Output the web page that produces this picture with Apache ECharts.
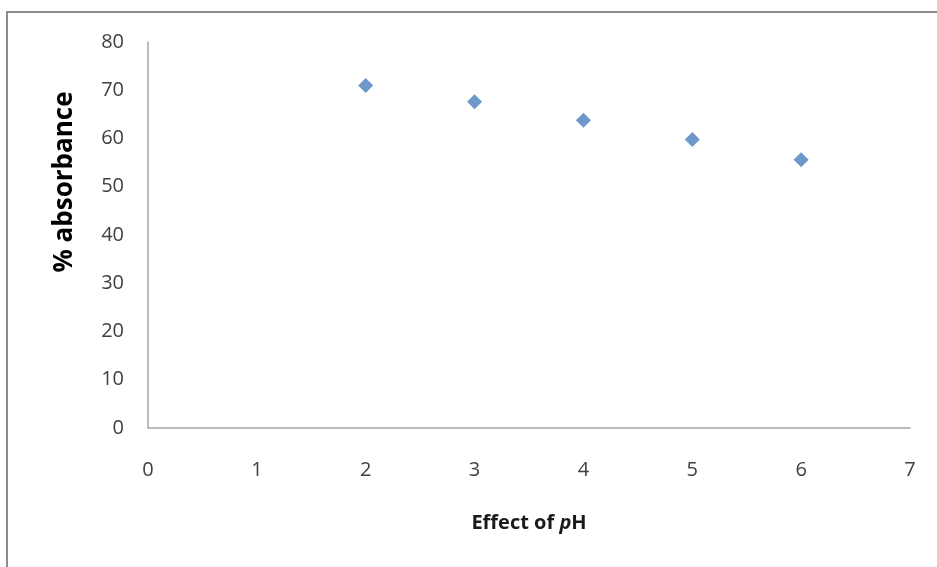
<!DOCTYPE html>
<html><head><meta charset="utf-8">
<script src="https://cdn.jsdelivr.net/npm/echarts@6/dist/echarts.min.js"></script>
<style>html,body{margin:0;padding:0;background:#fff}#c{width:937px;height:567px}</style>
</head><body><div id="c"></div>
<script>
const phValues = [2, 3, 4, 5, 6];
const absorbance = [71.0, 67.6, 63.8, 59.8, 55.6];
const xTicks = [0, 1, 2, 3, 4, 5, 6, 7];
const yTicks = [0, 10, 20, 30, 40, 50, 60, 70, 80];

const chart = echarts.init(document.getElementById('c'));
const font = '"Open Sans", "Liberation Sans", sans-serif';
chart.setOption({
  backgroundColor: '#fff',
  animation: false,
  graphic: [{
    type: 'rect', shape: {x: 7, y: 12, width: 940, height: 570},
    style: {fill: 'none', stroke: '#8c8c8c', lineWidth: 2}, silent: true, z: -1
  }],
  grid: {left: 148, right: 27, top: 42, bottom: 139},
  xAxis: {
    type: 'value', min: xTicks[0], max: xTicks[xTicks.length - 1], interval: 1,
    axisLine: {show: true, lineStyle: {color: '#a6a6a6', width: 1.5}},
    axisTick: {show: false}, splitLine: {show: false},
    axisLabel: {color: '#404040', fontSize: 20, fontFamily: font, margin: 32},
    name: 'Effect of {i|p}H', nameLocation: 'middle', nameGap: 85,
    nameTextStyle: {color: '#1a1a1a', fontSize: 20, fontWeight: 'bold', fontFamily: font,
      rich: {i: {fontStyle: 'italic', fontWeight: 'bold', fontSize: 20, fontFamily: font, color: '#1a1a1a'}}}
  },
  yAxis: {
    type: 'value', min: yTicks[0], max: yTicks[yTicks.length - 1], interval: 10,
    axisLine: {show: true, lineStyle: {color: '#a6a6a6', width: 1.5}},
    axisTick: {show: false}, splitLine: {show: false},
    axisLabel: {color: '#404040', fontSize: 20, fontFamily: font, margin: 24},
    name: '% absorbance', nameLocation: 'middle', nameGap: 70,
    nameTextStyle: {color: '#000', fontSize: 26, fontWeight: 'bold', fontFamily: font, padding: [0, 0, 0, 106]}
  },
  series: [{
    type: 'scatter', symbol: 'diamond', symbolSize: 15,
    itemStyle: {color: '#4a7ebb'},
    data: phValues.map((x, i) => [x, absorbance[i]])
  }]
});
</script></body></html>
